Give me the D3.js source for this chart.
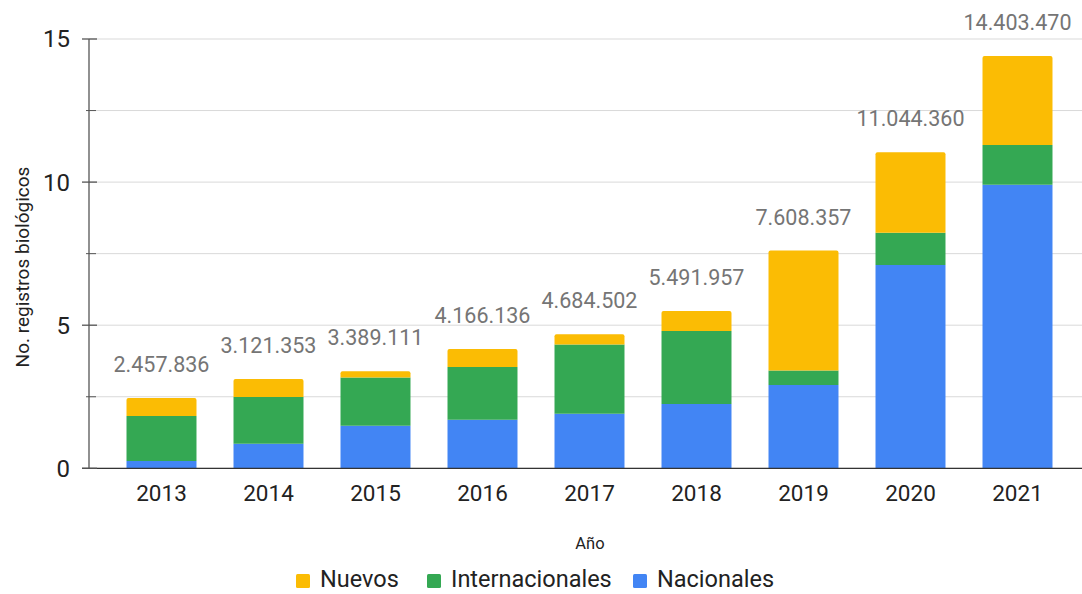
<!DOCTYPE html>
<html><head><meta charset="utf-8">
<script src="https://cdn.jsdelivr.net/npm/d3@7"></script>
<style>body{margin:0;background:#fff}svg{display:block;font-family:Roboto,"Noto Sans",sans-serif}</style>
</head><body><svg id="c" width="1082" height="594"></svg>
<script>
const years = ["2013","2014","2015","2016","2017","2018","2019","2020","2021"];
const nacionales = [0.255, 0.86, 1.49, 1.70, 1.91, 2.25, 2.91, 7.10, 9.91];
const internacionales = [1.575, 1.63, 1.68, 1.84, 2.42, 2.55, 0.51, 1.13, 1.39];
const totals = [2457836, 3121353, 3389111, 4166136, 4684502, 5491957, 7608357, 11044360, 14403470];
const totalLabels = ["2.457.836","3.121.353","3.389.111","4.166.136","4.684.502","5.491.957","7.608.357","11.044.360","14.403.470"];
const yTicks = [0, 5, 10, 15];
const yMinor = [2.5, 7.5, 12.5];
const seriesNames = ["Nacionales","Internacionales","Nuevos"];
const colors = {Nacionales:"#4285F4", Internacionales:"#34A853", Nuevos:"#FBBC04"};
const legendOrder = ["Nuevos","Internacionales","Nacionales"];

const rows = years.map((y,i)=>({year:y, Nacionales:nacionales[i], Internacionales:internacionales[i], Nuevos: totals[i]/1e6 - nacionales[i] - internacionales[i]}));

const svg = d3.select("#c");
const x = d3.scaleBand().domain(years).range([108,1071]).paddingInner(0.346).paddingOuter(0.173);
const y = d3.scaleLinear().domain([0,15]).range([468.3,39]);

// grid
svg.append("g").selectAll("line").data(yTicks.concat(yMinor)).join("line")
  .attr("x1",89).attr("x2",1082).attr("y1",d=>y(d)).attr("y2",d=>y(d))
  .attr("stroke","#d9d9d9").attr("stroke-width",1);

const stack = d3.stack().keys(seriesNames)(rows);
const r = 2;
stack.forEach((layer,li)=>{
  svg.append("g").selectAll("path").data(layer).join("path")
    .attr("fill",colors[layer.key])
    .attr("d",d=>{
      const x0=x(d.data.year), w=x.bandwidth(), yt=y(d[1]), yb=y(d[0]);
      if(li===seriesNames.length-1){
        return `M${x0},${yb}V${yt+r}Q${x0},${yt} ${x0+r},${yt}H${x0+w-r}Q${x0+w},${yt} ${x0+w},${yt+r}V${yb}Z`;
      }
      return `M${x0},${yb}V${yt}H${x0+w}V${yb}Z`;
    });
});

// total labels
svg.append("g").selectAll("text").data(rows).join("text")
  .attr("x",d=>x(d.year)+x.bandwidth()/2)
  .attr("y",(d,i)=>y(totals[i]/1e6)-26)
  .attr("text-anchor","middle").attr("font-size",21.5).attr("fill","#757575")
  .text((d,i)=>totalLabels[i]);

// axes
svg.append("line").attr("x1",82).attr("x2",1082).attr("y1",y(0)).attr("y2",y(0)).attr("stroke","#333").attr("stroke-width",1.3);
svg.append("line").attr("x1",89).attr("x2",89).attr("y1",y(15)).attr("y2",y(0)).attr("stroke","#555").attr("stroke-width",1.3);
svg.append("g").selectAll("line").data(yTicks).join("line")
  .attr("x1",82).attr("x2",97).attr("y1",d=>y(d)).attr("y2",d=>y(d)).attr("stroke","#555").attr("stroke-width",1.3);
svg.append("g").selectAll("line").data(yMinor).join("line")
  .attr("x1",86).attr("x2",96).attr("y1",d=>y(d)).attr("y2",d=>y(d)).attr("stroke","#555").attr("stroke-width",1);
svg.append("g").selectAll("text").data(yTicks).join("text")
  .attr("x",70).attr("y",d=>y(d)).attr("dy","0.35em").attr("text-anchor","end")
  .attr("font-size",24).attr("fill","#222").text(d=>d);

svg.append("g").selectAll("text").data(years).join("text")
  .attr("x",d=>x(d)+x.bandwidth()/2).attr("y",501).attr("text-anchor","middle")
  .attr("font-size",22.5).attr("fill","#222").text(d=>d);

svg.append("text").attr("x",590).attr("y",549).attr("text-anchor","middle").attr("font-size",16.5).attr("fill","#222").text("Año");
svg.append("text").attr("transform","translate(29,267) rotate(-90)").attr("text-anchor","middle").attr("font-size",19).attr("fill","#222").text("No. registros biológicos");

// legend
const legX = {Nuevos:296, Internacionales:427, Nacionales:633};
const lg = svg.append("g");
legendOrder.forEach(k=>{
  lg.append("rect").attr("x",legX[k]).attr("y",574).attr("width",14).attr("height",14).attr("rx",1.5).attr("fill",colors[k]);
  lg.append("text").attr("x",legX[k]+24).attr("y",587).attr("font-size",23.5).attr("fill","#222").text(k);
});
</script></body></html>
